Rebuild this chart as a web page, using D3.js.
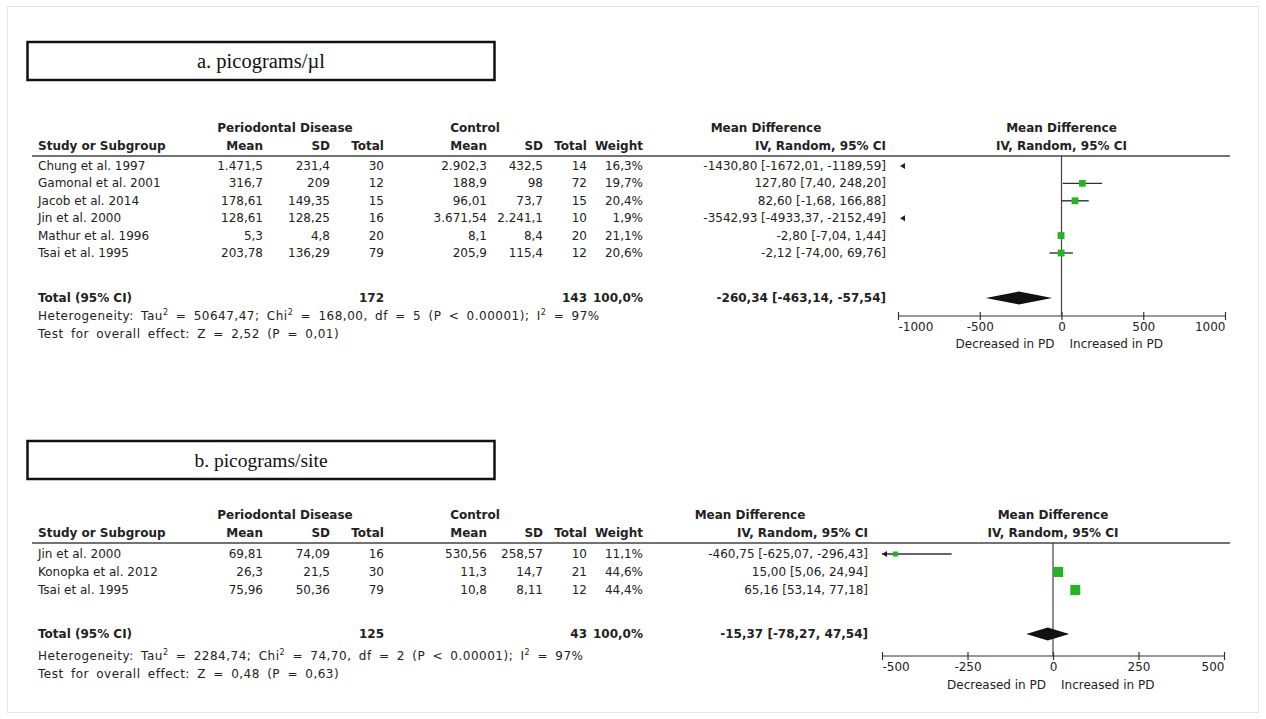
<!DOCTYPE html>
<html>
<head>
<meta charset="utf-8">
<script src="https://cdn.jsdelivr.net/npm/d3@7/dist/d3.min.js"></script>
<style>
  body { margin: 0; background: #fff; }
  svg { display: block; }
  text { font-family: "DejaVu Sans", "Noto Sans", sans-serif; font-size: 12px; fill: #222; }
  .b { font-weight: bold; }
  text.title { font-family: "Liberation Serif", "Times New Roman", serif; fill: #111; }
  .stat { word-spacing: 3px; letter-spacing: 0.5px; }
</style>
</head>
<body>
<svg id="chart" width="1266" height="719"></svg>
<script>
// ---- a. picograms/µl ----
const studiesA   = ["Chung et al. 1997", "Gamonal et al. 2001", "Jacob et al. 2014", "Jin et al. 2000", "Mathur et al. 1996", "Tsai et al. 1995"];
const pdMeanA    = [1471.5, 316.7, 178.61, 128.61, 5.3, 203.78];
const pdSdA      = [231.4, 209, 149.35, 128.25, 4.8, 136.29];
const pdTotalA   = [30, 12, 15, 16, 20, 79];
const ctMeanA    = [2902.3, 188.9, 96.01, 3671.54, 8.1, 205.9];
const ctSdA      = [432.5, 98, 73.7, 2241.1, 8.4, 115.4];
const ctTotalA   = [14, 72, 15, 10, 20, 12];
const weightA    = [16.3, 19.7, 20.4, 1.9, 21.1, 20.6];
const mdA        = [-1430.80, 127.80, 82.60, -3542.93, -2.80, -2.12];
const loA        = [-1672.01, 7.40, -1.68, -4933.37, -7.04, -74.00];
const hiA        = [-1189.59, 248.20, 166.88, -2152.49, 1.44, 69.76];
const pooledA    = [-260.34, -463.14, -57.54];   // estimate, lower, upper
const ticksA     = [-1000, -500, 0, 500, 1000];
const heteroA    = ["50647,47", "168,00", "5", "0.00001", "97"];  // Tau², Chi², df, P, I²
const overallA   = ["2,52", "0,01"];                                // Z, P

// ---- b. picograms/site ----
const studiesB   = ["Jin et al. 2000", "Konopka et al. 2012", "Tsai et al. 1995"];
const pdMeanB    = [69.81, 26.3, 75.96];
const pdSdB      = [74.09, 21.5, 50.36];
const pdTotalB   = [16, 30, 79];
const ctMeanB    = [530.56, 11.3, 10.8];
const ctSdB      = [258.57, 14.7, 8.11];
const ctTotalB   = [10, 21, 12];
const weightB    = [11.1, 44.6, 44.4];
const mdB        = [-460.75, 15.00, 65.16];
const loB        = [-625.07, 5.06, 53.14];
const hiB        = [-296.43, 24.94, 77.18];
const pooledB    = [-15.37, -78.27, 47.54];
const ticksB     = [-500, -250, 0, 250, 500];
const heteroB    = ["2284,74", "74,70", "2", "0.00001", "97"];
const overallB   = ["0,48", "0,63"];

const totalWeight = 100;

const loc = d3.formatLocale({ decimal: ",", thousands: ".", grouping: [3], currency: ["", ""], minus: "-" });
const fmtVal = loc.format(",.2~f");
const fmt2   = loc.format(".2f");
const fmtW   = v => loc.format(".1f")(v) + "%";
const fmtTick = loc.format("d");

const svg = d3.select("#chart");

// faint outer frame
svg.append("rect").attr("x", 7.5).attr("y", 6.5).attr("width", 1251).attr("height", 706)
  .attr("fill", "none").attr("stroke", "#e4e4e4").attr("stroke-width", 1);

// column anchors (right edges for numeric columns)
const col = { name: 38, pdMean: 263, pdSd: 330, pdTotal: 384, ctMean: 487, ctSd: 543, ctTotal: 587, weight: 643 };

function drawPanel(p) {
  const g = svg.append("g");

  // titled box
  g.append("rect").attr("x", 27.5).attr("y", p.boxY).attr("width", 467).attr("height", 38)
    .attr("fill", "none").attr("stroke", "#111").attr("stroke-width", 2.5);
  g.append("text").attr("class", "title").attr("x", 261).attr("y", p.boxY + 26)
    .style("font-size", p.titleSize + "px").attr("text-anchor", "middle").text(p.title);

  // column headers
  const h1 = p.hdrY, h2 = p.hdrY + 18;
  const head = (x, y, t, anchor) => g.append("text").attr("class", "b").attr("x", x).attr("y", y)
    .attr("text-anchor", anchor).text(t);
  head(285, h1, "Periodontal Disease", "middle");
  head(475, h1, "Control", "middle");
  head(p.mdHeadX, h1, "Mean Difference", "middle");
  head(38, h2, "Study or Subgroup", "start");
  head(col.pdMean, h2, "Mean", "end");
  head(col.pdSd, h2, "SD", "end");
  head(col.pdTotal, h2, "Total", "end");
  head(col.ctMean, h2, "Mean", "end");
  head(col.ctSd, h2, "SD", "end");
  head(col.ctTotal, h2, "Total", "end");
  head(col.weight, h2, "Weight", "end");
  head(p.mdX, h2, "IV, Random, 95% CI", "end");

  const x = d3.scaleLinear().domain(d3.extent(p.ticks)).range(p.range);
  const xMid = (p.range[0] + p.range[1]) / 2;
  head(xMid, h1, "Mean Difference", "middle");
  head(xMid, h2, "IV, Random, 95% CI", "middle");

  const ruleY = h2 + 6;
  g.append("line").attr("x1", 32).attr("x2", 1230).attr("y1", ruleY).attr("y2", ruleY)
    .attr("stroke", "#444").attr("stroke-width", 1.5);

  const rowY = i => p.row0 + i * p.dy;

  // study rows
  p.studies.forEach((s, i) => {
    const y = rowY(i) + 4;
    const cell = (xx, t, anchor = "end") => g.append("text").attr("x", xx).attr("y", y).attr("text-anchor", anchor).text(t);
    cell(col.name, s, "start");
    cell(col.pdMean, fmtVal(p.pdMean[i]));
    cell(col.pdSd, fmtVal(p.pdSd[i]));
    cell(col.pdTotal, p.pdTotal[i]);
    cell(col.ctMean, fmtVal(p.ctMean[i]));
    cell(col.ctSd, fmtVal(p.ctSd[i]));
    cell(col.ctTotal, p.ctTotal[i]);
    cell(col.weight, fmtW(p.weight[i]));
    cell(p.mdX, `${fmt2(p.md[i])} [${fmt2(p.lo[i])}, ${fmt2(p.hi[i])}]`);
  });

  // totals row
  const ty = rowY(p.studies.length - 1) + p.totalGap;
  const tcell = (xx, t, anchor = "end") => g.append("text").attr("class", "b").attr("x", xx).attr("y", ty + 4).attr("text-anchor", anchor).text(t);
  tcell(col.name, "Total (95% CI)", "start");
  tcell(col.pdTotal, d3.sum(p.pdTotal));
  tcell(col.ctTotal, d3.sum(p.ctTotal));
  tcell(col.weight, fmtW(totalWeight));
  tcell(p.mdX, `${fmt2(p.pooled[0])} [${fmt2(p.pooled[1])}, ${fmt2(p.pooled[2])}]`);

  // heterogeneity and overall effect
  const het = g.append("text").attr("class", "stat").attr("x", col.name).attr("y", ty + p.statGap);
  const sup = () => het.append("tspan").attr("dy", -5).style("font-size", "8px").text("2");
  const down = t => het.append("tspan").attr("dy", 5).text(t);
  het.append("tspan").text("Heterogeneity: Tau");
  sup(); down(` = ${p.hetero[0]}; Chi`);
  sup(); down(` = ${p.hetero[1]}, df = ${p.hetero[2]} (P < ${p.hetero[3]}); I`);
  sup(); down(` = ${p.hetero[4]}%`);
  g.append("text").attr("class", "stat").attr("x", col.name).attr("y", ty + p.statGap + 18)
    .text(`Test for overall effect: Z = ${p.overall[0]} (P = ${p.overall[1]})`);

  // forest plot
  const axisY = p.axisY;
  const [dMin, dMax] = x.domain();
  g.append("line").attr("x1", x(0)).attr("x2", x(0)).attr("y1", ruleY).attr("y2", axisY)
    .attr("stroke", "#444").attr("stroke-width", 1.2);

  const leftArrow = (tipX, y) => g.append("path")
    .attr("d", `M${tipX},${y} L${tipX + 5},${y - 3} L${tipX + 5},${y + 3} Z`).attr("fill", "#222");

  p.studies.forEach((s, i) => {
    const y = rowY(i);
    if (p.hi[i] < dMin) { leftArrow(x(dMin) + 2, y); return; }
    const x1 = Math.max(p.lo[i], dMin), x2 = Math.min(p.hi[i], dMax);
    g.append("line").attr("x1", x(x1)).attr("x2", x(x2)).attr("y1", y).attr("y2", y)
      .attr("stroke", "#333").attr("stroke-width", 1.4);
    if (p.lo[i] < dMin) leftArrow(x(dMin), y);
    const side = 1.5 * Math.sqrt(p.weight[i]);
    g.append("rect").attr("x", x(p.md[i]) - side / 2).attr("y", y - side / 2)
      .attr("width", side).attr("height", side).attr("fill", "#22b522");
  });

  // pooled diamond
  const [pm, pl, pu] = p.pooled;
  g.append("path")
    .attr("d", `M${x(pl)},${ty} L${x(pm)},${ty - 6.5} L${x(pu)},${ty} L${x(pm)},${ty + 6.5} Z`)
    .attr("fill", "#111");

  // axis
  const ax = g.append("g").attr("transform", `translate(0,${axisY})`)
    .call(d3.axisBottom(x).tickValues(p.ticks).tickFormat(fmtTick).tickSizeOuter(0).tickSizeInner(4));
  ax.attr("font-family", null).attr("font-size", null);
  ax.select(".domain").attr("stroke", "#333").attr("stroke-width", 1.2).attr("d", `M${p.range[0]},0H${p.range[1]}`);
  ax.selectAll(".tick line").attr("y1", -4).attr("y2", 4).attr("stroke", "#333").attr("stroke-width", 1.2);
  ax.selectAll(".tick text").attr("y", 6).attr("fill", "#222")
    .attr("text-anchor", (d, i) => i === 0 ? "start" : (i === p.ticks.length - 1 ? "end" : "middle"));

  g.append("text").attr("x", x(0) - 7).attr("y", axisY + p.dirGap).attr("text-anchor", "end").text("Decreased in PD");
  g.append("text").attr("x", x(0) + 8).attr("y", axisY + p.dirGap).attr("text-anchor", "start").text("Increased in PD");
}

drawPanel({
  title: "a. picograms/\u00b5l", titleSize: 20.5, boxY: 42, hdrY: 132, row0: 166, dy: 17.4, totalGap: 45,
  statGap: 22, axisY: 316, dirGap: 32, mdX: 886, mdHeadX: 766,
  studies: studiesA, pdMean: pdMeanA, pdSd: pdSdA, pdTotal: pdTotalA, ctMean: ctMeanA, ctSd: ctSdA,
  ctTotal: ctTotalA, weight: weightA, md: mdA, lo: loA, hi: hiA, pooled: pooledA,
  ticks: ticksA, range: [898, 1225], hetero: heteroA, overall: overallA
});

drawPanel({
  title: "b. picograms/site", titleSize: 19.5, boxY: 441, hdrY: 519, row0: 554, dy: 18, totalGap: 44,
  statGap: 26, axisY: 656, dirGap: 33, mdX: 868, mdHeadX: 750,
  studies: studiesB, pdMean: pdMeanB, pdSd: pdSdB, pdTotal: pdTotalB, ctMean: ctMeanB, ctSd: ctSdB,
  ctTotal: ctTotalB, weight: weightB, md: mdB, lo: loB, hi: hiB, pooled: pooledB,
  ticks: ticksB, range: [882, 1224], hetero: heteroB, overall: overallB
});
</script>
</body>
</html>
